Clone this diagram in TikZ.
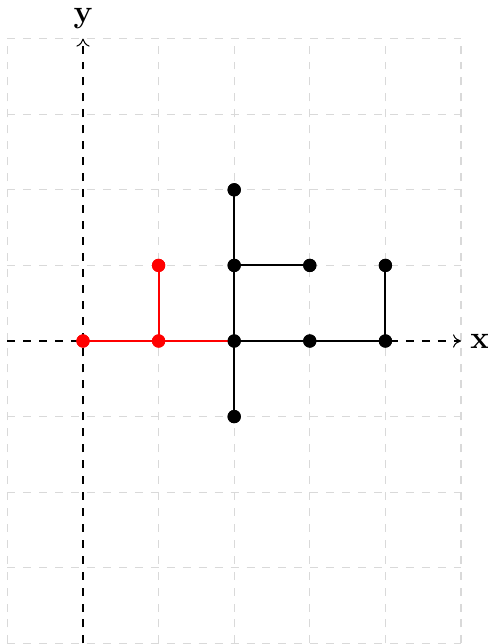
\documentclass[tikz,border=0pt]{standalone}
\usetikzlibrary{arrows.meta}
\begin{document}
\begin{tikzpicture}[x=1cm,y=1cm,
  gridline/.style={dashed,gray!30,line width=0.4pt},
  axis/.style={dashed,black,line width=0.4pt,-{To[length=3pt,width=5pt]}},
  edge/.style={line width=0.8pt,black},
  redge/.style={line width=0.8pt,red},
  dot/.style={circle,fill=black,inner sep=0pt,minimum size=5pt},
  rdot/.style={circle,fill=red,inner sep=0pt,minimum size=5pt}]
\useasboundingbox (-1.098,-4.008) rectangle (5.357,4.511);
\draw[gridline] (-1,-4) grid (5,4);
\coordinate (xs) at (-1,0);
\coordinate (xe) at (5,0);
\coordinate (ys) at (0,-4);
\coordinate (ye) at (0,4);
\draw[axis] (xs) -- (xe) node[right,font=\bfseries\large] (xl) {x};
\draw[axis] (ys) -- (ye) node[above,font=\bfseries\large] (yl) {y};
% black nodes
\node[dot] (a) at (2,2) {};
\node[dot] (b) at (2,1) {};
\node[dot] (c) at (3,1) {};
\node[dot] (d) at (2,0) {};
\node[dot] (e) at (3,0) {};
\node[dot] (f) at (4,0) {};
\node[dot] (g) at (4,1) {};
\node[dot] (h) at (2,-1) {};
% red nodes
\node[rdot] (o) at (0,0) {};
\node[rdot] (p) at (1,0) {};
\node[rdot] (q) at (1,1) {};
\begin{scope}[on background layer/.style={}]
\draw[redge] (o.center) -- (p.center);
\draw[redge] (p.center) -- (d.center);
\draw[redge] (p.center) -- (q.center);
\draw[edge] (h.center) -- (d.center);
\draw[edge] (d.center) -- (b.center);
\draw[edge] (b.center) -- (a.center);
\draw[edge] (b.center) -- (c.center);
\draw[edge] (d.center) -- (e.center);
\draw[edge] (e.center) -- (f.center);
\draw[edge] (f.center) -- (g.center);
\end{scope}
\foreach \n in {a,b,c,d,e,f,g,h} \fill[black] (\n) circle (2.5pt);
\foreach \n in {o,p,q} \fill[red] (\n) circle (2.5pt);
\end{tikzpicture}
\end{document}
